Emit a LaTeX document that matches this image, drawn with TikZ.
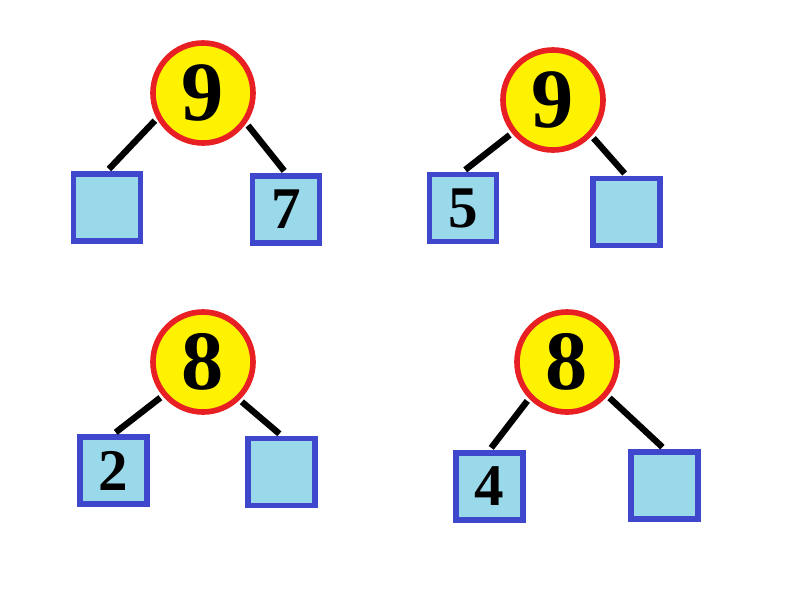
\documentclass[tikz,border=0pt]{standalone}
\usepackage{fontspec}
\setmainfont{Liberation Serif}
\definecolor{ringred}{RGB}{232,32,36}
\definecolor{boxblue}{RGB}{63,72,204}
\definecolor{boxfill}{RGB}{153,217,234}

\begin{document}
\begin{tikzpicture}[x=0.025cm,y=-0.025cm,
  whole/.style={circle,draw=ringred,fill=yellow,line width=4pt,minimum size=2.5cm,inner sep=0pt,
    font=\fontsize{60}{60}\selectfont\bfseries},
  part/.style={rectangle,draw=boxblue,fill=boxfill,line width=4pt,minimum size=1.68cm,inner sep=0pt,
    font=\fontsize{42}{42}\selectfont\bfseries},
  stick/.style={line width=4.5pt,shorten <=2pt,shorten >=2pt}]
\useasboundingbox (0,0) rectangle (800,600);

\node[whole] (9a) at (203,93) {9};
\node[part] (9al) at (107,207.5) {};
\node[part] (9ar) at (286,209.5) {7};

\node[whole] (9b) at (553,100) {9};
\node[part] (9bl) at (463,208) {5};
\node[part] (9br) at (626.5,212) {};

\node[whole] (8a) at (203,362) {8};
\node[part] (8al) at (113.5,470.5) {2};
\node[part] (8ar) at (281.5,472) {};

\node[whole] (8b) at (567,362) {8};
\node[part] (8bl) at (489.5,486.5) {4};
\node[part] (8br) at (664.5,485.5) {};

\draw[stick] (9a.209) -- (9al.north);
\draw[stick] (9a.325) -- (9ar.north);
\draw[stick] (9b.219) -- (9bl.north);
\draw[stick] (9b.317) -- (9br.north);
\draw[stick] (8a.220) -- (8al.north);
\draw[stick] (8a.314) -- (8ar.north);
\draw[stick] (8b.224) -- (8bl.north);
\draw[stick] (8b.320) -- (8br.north);
\end{tikzpicture}
\end{document}
